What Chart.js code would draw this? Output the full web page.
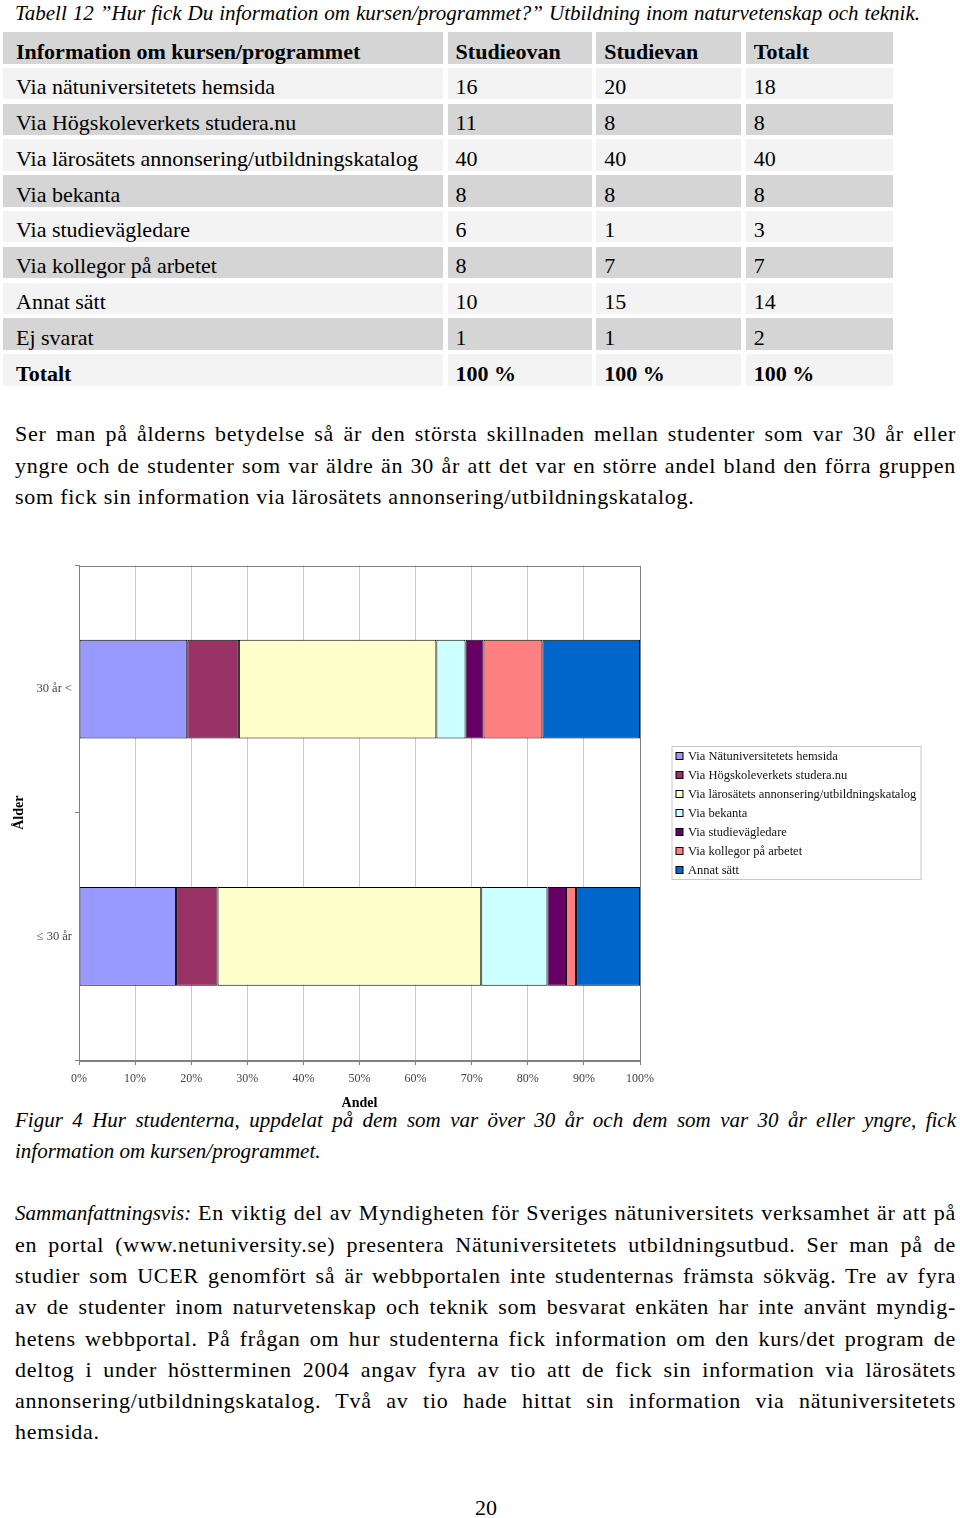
<!DOCTYPE html>
<html>
<head>
<meta charset="utf-8">
<script src="https://cdn.jsdelivr.net/npm/chart.js@4.4.1/dist/chart.umd.min.js"></script>
<style>
  body { margin: 0; width: 960px; height: 1518px; position: relative; overflow: hidden; background: #fff;
         font-family: "Liberation Serif", "Times New Roman", serif; color: #000; }
  .abs { position: absolute; }
  .txt { left: 15px; width: 941px; font-size: 22px; letter-spacing: 0.75px; }
  .it { font-size: 21px; letter-spacing: 0; font-style: italic; }
  .j { text-align: justify; text-align-last: justify; }
  #title { top: 0; left: 15px; width: 905px; font-size: 21px; line-height: 26px; font-style: italic; }
  #tbl { top: 32px; left: 3px; display: grid; grid-template-columns: 440px 144px 145px 147px;
         column-gap: 4.6px; row-gap: 4.3px; grid-auto-rows: 31.5px; font-size: 22px; }
  #tbl div { line-height: 31.5px; padding-top: 3.5px; box-sizing: border-box; height: 31.5px; padding-left: 8px; white-space: nowrap; }
  #tbl div.first { padding-left: 13px; }
  #tbl .dark { background: #d5d5d5; }
  #tbl .light { background: #f3f3f3; }
  #tbl .b { font-weight: bold; }
  #chartBox { left: 0; top: 555px; width: 930px; height: 557px; z-index: 2; }
</style>
</head>
<body>
<div id="title" class="abs j">Tabell 12 ”Hur fick Du information om kursen/programmet?” Utbildning inom naturvetenskap och teknik.</div>
<div id="tbl" class="abs"></div>

<div class="abs txt" style="top:418px; line-height:31.5px;">
  <div class="j">Ser man på ålderns betydelse så är den största skillnaden mellan studenter som var 30 år eller</div>
  <div class="j">yngre och de studenter som var äldre än 30 år att det var en större andel bland den förra gruppen</div>
  <div>som fick sin information via lärosätets annonsering/utbildningskatalog.</div>
</div>

<div id="chartBox" class="abs"><canvas id="chart" width="930" height="557"></canvas></div>

<div class="abs txt it" style="top:1105px; line-height:31px;">
  <div class="j">Figur 4 Hur studenterna, uppdelat på dem som var över 30 år och dem som var 30 år eller yngre, fick</div>
  <div>information om kursen/programmet.</div>
</div>

<div class="abs txt" style="top:1197px; line-height:31.15px;">
  <div class="j"><i style="font-size:21px; letter-spacing:0;">Sammanfattningsvis:</i> En viktig del av Myndigheten för Sveriges nätuniversitets verksamhet är att på</div>
  <div class="j">en portal (www.netuniversity.se) presentera Nätuniversitetets utbildningsutbud. Ser man på de</div>
  <div class="j">studier som UCER genomfört så är webbportalen inte studenternas främsta sökväg. Tre av fyra</div>
  <div class="j">av de studenter inom naturvetenskap och teknik som besvarat enkäten har inte använt myndig-</div>
  <div class="j">hetens webbportal. På frågan om hur studenterna fick information om den kurs/det program de</div>
  <div class="j">deltog i under höstterminen 2004 angav fyra av tio att de fick sin information via lärosätets</div>
  <div class="j">annonsering/utbildningskatalog. Två av tio hade hittat sin information via nätuniversitetets</div>
  <div>hemsida.</div>
</div>

<div class="abs" style="top:1492px; left:0; width:972px; text-align:center; font-size:22px; line-height:31px;">20</div>

<script>
// Table 12
const tableHeader = ['Information om kursen/programmet', 'Studieovan', 'Studievan', 'Totalt'];
const tableRows = ['Via nätuniversitetets hemsida', 'Via Högskoleverkets studera.nu',
  'Via lärosätets annonsering/utbildningskatalog', 'Via bekanta', 'Via studievägledare',
  'Via kollegor på arbetet', 'Annat sätt', 'Ej svarat'];
const studieovan = [16, 11, 40, 8, 6, 8, 10, 1];
const studievan = [20, 8, 40, 8, 1, 7, 15, 1];
const totalt = [18, 8, 40, 8, 3, 7, 14, 2];
const totalRow = ['Totalt', '100 %', '100 %', '100 %'];

// Figure 4 (share in %)
const ageGroups = ['30 år <', '≤ 30 år'];
const sources = ['Via Nätuniversitetets hemsida', 'Via Högskoleverkets studera.nu',
  'Via lärosätets annonsering/utbildningskatalog', 'Via bekanta', 'Via studievägledare',
  'Via kollegor på arbetet', 'Annat sätt'];
const over30 = [19.3, 9.2, 35.2, 5.2, 3.2, 10.5, 17.4];
const upTo30 = [17.3, 7.4, 47.0, 11.8, 3.3, 1.8, 11.4];
const sourceColors = ['#9999FF', '#993366', '#FFFFCC', '#CCFFFF', '#660066', '#FF8080', '#0066CC'];

function addRow(cells, cls, bold) {
    const tbl = document.getElementById('tbl');
    cells.forEach((c, i) => {
        const d = document.createElement('div');
        d.className = cls + (i === 0 ? ' first' : '') + (bold ? ' b' : '');
        d.textContent = c;
        tbl.appendChild(d);
    });
}
addRow(tableHeader, 'dark', true);
tableRows.forEach((r, i) => addRow([r, studieovan[i], studievan[i], totalt[i]], i % 2 === 0 ? 'light' : 'dark', false));
addRow(totalRow, 'light', true);

const serif = 'Liberation Serif';

// gray frame round the plot area, like Excel
const plotFrame = {
    id: 'plotFrame',
    afterDatasetsDraw(chart) {
        const a = chart.chartArea, ctx = chart.ctx;
        ctx.save();
        ctx.strokeStyle = '#808080';
        ctx.lineWidth = 1;
        ctx.strokeRect(Math.round(a.left) + 0.5, Math.round(a.top) + 0.5, Math.round(a.right - a.left), Math.round(a.bottom - a.top));
        ctx.restore();
    }
};

// boxed legend on the right
const boxLegend = {
    id: 'boxLegend',
    afterDraw(chart) {
        const ctx = chart.ctx, a = chart.chartArea;
        const sets = chart.data.datasets;
        const rowH = 19, w = 249, h = rowH * sets.length;
        const x = a.right + 32, y = Math.round((a.top + a.bottom) / 2 - h / 2) + 0.5;
        ctx.save();
        ctx.strokeStyle = '#c8c8c8';
        ctx.lineWidth = 1;
        ctx.strokeRect(x, y, w, h);
        ctx.font = '12.5px ' + serif;
        ctx.textBaseline = 'middle';
        sets.forEach((ds, i) => {
            const cy = y + 10 + i * rowH;
            ctx.fillStyle = ds.backgroundColor;
            ctx.fillRect(x + 4, cy - 4, 7, 7);
            ctx.strokeStyle = '#000';
            ctx.strokeRect(x + 4, cy - 4, 7, 7);
            ctx.fillStyle = '#111';
            ctx.fillText(ds.label, x + 16, cy);
        });
        ctx.restore();
    }
};

new Chart(document.getElementById('chart'), {
    type: 'bar',
    data: {
        labels: ageGroups,
        datasets: sources.map((s, i) => ({
            label: s,
            data: [over30[i], upTo30[i]],
            backgroundColor: sourceColors[i],
            borderColor: '#000',
            borderWidth: 1,
            borderSkipped: false,
            barPercentage: 0.4,
            categoryPercentage: 1
        }))
    },
    options: {
        indexAxis: 'y',
        responsive: false,
        animation: false,
        layout: { padding: { top: 10, right: 290, left: 0, bottom: 0 } },
        plugins: { legend: { display: false }, tooltip: { enabled: false } },
        scales: {
            x: {
                stacked: true, min: 0, max: 100,
                ticks: { stepSize: 10, callback: v => v + '%', font: { family: serif, size: 12 }, color: '#444', padding: 7 },
                grid: { color: '#c8c8c8', tickColor: '#808080', tickLength: 5 },
                border: { color: '#808080' },
                title: { display: true, text: 'Andel', color: '#000', font: { family: serif, size: 14, weight: 'bold' }, padding: 0 },
                afterFit: s => { s.height = 52; }
            },
            y: {
                stacked: true,
                ticks: { font: { family: serif, size: 12.5 }, color: '#444', padding: 3 },
                grid: { drawOnChartArea: false, tickColor: '#808080', tickLength: 4 },
                border: { color: '#808080' },
                title: { display: true, text: 'Ålder', color: '#000', font: { family: serif, size: 14, weight: 'bold' }, padding: { top: 11, bottom: 0 } },
                afterFit: s => { s.width = 79; }
            }
        }
    },
    plugins: [plotFrame, boxLegend]
});
</script>
</body>
</html>
